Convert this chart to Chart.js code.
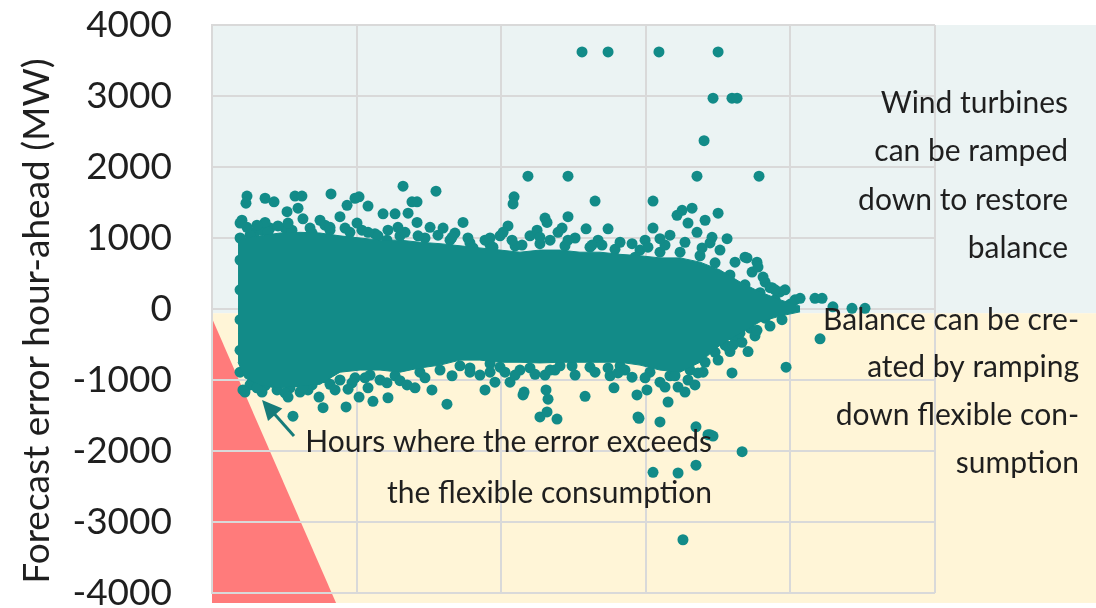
<!DOCTYPE html>
<html>
<head>
<meta charset="utf-8">
<script src="https://cdn.jsdelivr.net/npm/chart.js@4.4.1/dist/chart.umd.min.js"></script>
<style>
html, body { margin: 0; padding: 0; background: #ffffff; }
#wrap { width: 1096px; height: 608px; }
</style>
</head>
<body>
<div id="wrap"><canvas id="chart" width="1096" height="608"></canvas></div>
<script>
// y axis ticks
const yTickValues = [-4000, -3000, -2000, -1000, 0, 1000, 2000, 3000, 4000];
const yTickLabels = ["-4000", "-3000", "-2000", "-1000", "0", "1000", "2000", "3000", "4000"];
const yTitle = "Forecast error hour-ahead (MW)";

// dense core of the cloud, read as an envelope
const envX = [180, 228, 332, 470, 609, 747, 885, 1024, 1162, 1300, 1438, 1577, 1715, 1853, 1992, 2130, 2268, 2407, 2545, 2683, 2822, 2960, 3098, 3237, 3375, 3513, 3652, 3790, 3928, 4067];
const envUpper = [950, 1000, 1030, 1070, 1080, 1070, 1030, 1000, 970, 970, 940, 920, 890, 860, 830, 800, 830, 830, 800, 800, 770, 750, 720, 720, 660, 550, 380, 240, 130, 40];
const envLower = [-750, -970, -1070, -1110, -1080, -1060, -890, -860, -860, -890, -830, -790, -720, -720, -750, -750, -760, -750, -750, -750, -750, -790, -860, -890, -750, -510, -340, -180, -100, -40];

// single hours outside the core
const upperDots = [
[2559,3620],[2739,3620],[3091,3620],[3500,3620],
[3465,2970],[3596,2970],[3631,2970],
[3403,2370],
[2185,1870],[2462,1870],[3354,1870],[3783,1870],
[1321,1730],[1549,1660],[823,1620],
[242,1590],[574,1590],[622,1590],[1017,1580],[2089,1580],
[367,1560],[989,1560],[3050,1520],[2649,1520],
[1418,1510],[1383,1510],[235,1490],[2082,1480],[429,1510],
[934,1460],[1079,1450],[595,1420],[3320,1420],[3251,1390],
[519,1370],[1356,1350],[3500,1350],[1183,1340],[1266,1340],
[3216,1320],[885,1300],[2462,1300],[2303,1280],[629,1270],
[747,1250],[207,1250],[3410,1250],
[1736,1220],[367,1220],[2317,1220],[1418,1220],
[194,1210],[526,1210],[1003,1210],[3292,1210],
[311,1180],[2047,1170],
[242,1150],[816,1150],[1286,1150],[1508,1150],
[1598,1140],[3050,1140],[2421,1140],
[2739,1130],[2587,1130],[1217,1110],[2248,1110],
[387,1080],[1079,1080],[2013,1080],[2393,1080],[3354,1080],
[3167,1040],[2268,1010],[3458,1010],[1660,1010],[1923,1000],
[3098,990],[3562,990],[1210,970],[643,970],[2462,970],
[3444,930],[2905,920],[2144,900],[2628,900],[2697,900],
[1943,870],[3015,870],[1252,860],[1805,860],[1936,760],[2926,730],
[3686,730],[3700,720],[3769,660],[3776,590],[3811,450],
[3859,300],[3873,300],[3894,270],[3963,270],
[4067,150],[4170,150],[4219,150],[4294,30],[4426,10],[4516,10]
];

const lowerDots = [
[214,-1140],[228,-1170],[311,-1110],[526,-1240],[560,-1510],
[740,-1240],[629,-1100],[768,-1390],[927,-1380],
[1017,-1240],[1079,-1110],[1113,-1300],[941,-1130],[1217,-1250],[1210,-1040],
[1349,-1070],[1404,-1110],[1521,-1140],[1625,-1340],
[1853,-930],[1888,-1140],[1923,-890],[1957,-1030],
[2061,-1030],[2096,-930],[2158,-1170],[2151,-1210],
[2303,-930],[2338,-860],[2310,-1140],[2324,-1270],
[2268,-1520],[2317,-1450],[2386,-1550],
[2580,-1230],[2511,-930],[2739,-830],[2808,-900],[2780,-1110],
[2905,-960],[2939,-1210],[2946,-1520],[2953,-1540],
[3008,-1140],[3098,-1590],[3133,-1100],[3223,-1100],[3154,-1310],
[3271,-1170],[3340,-1070],[3361,-900],
[3347,-1660],[3430,-1770],[3444,-1770],[3465,-1790],
[3666,-2010],[3347,-2200],[3050,-2300],[3223,-2310],[3257,-3250],
[3569,-535],[3603,-510],[3596,-900],[3707,-600],
[3769,-300],[3651,-340],[3970,-820],[4205,-420]
];

// hours packed along the rim of the core
const edgeDots = [
[194,1000],[297,1080],[401,1140],[505,1140],[678,1140],[816,1110],[954,1080],
[1127,1060],[1300,1030],[1473,1000],[1646,970],[1784,930],[1923,900],[2096,890],
[2268,920],[2441,890],[2614,870],[2787,840],[2960,830],[3098,800],[3237,800],
[3375,750],[3479,650],[3582,480],[3686,340],[3790,230],[3894,130],[4000,70],
[263,1040],[346,1110],[456,1170],[553,1110],[692,1070],[781,1180],[920,1140],
[1037,1110],[1148,1030],[1335,1080],[1425,1030],[1563,1040],[1680,1070],[1770,1000],
[1888,970],[1992,1030],[2075,970],[2199,1030],[2338,970],[2511,1000],[2670,970],
[2822,940],[2995,970],[3133,900],[3271,940],[3389,860],[3513,830],[3617,660],
[3735,520],[3825,380],[3928,240],[4032,130],
[194,690],[194,270],[194,-150],[194,-580],
[277,-1030],[367,-1080],[450,-1140],[539,-1110],[609,-1170],[692,-1070],
[816,-1060],[885,-1000],[989,-970],[1093,-930],[1266,-940],[1438,-890],
[1577,-860],[1715,-800],[1784,-830],[1992,-820],[2199,-830],[2407,-800],
[2614,-820],[2822,-800],[3029,-890],[3167,-940],[3306,-860],[3410,-750],
[3479,-610],[3548,-510],[3617,-410],[3721,-270],[3825,-130],
[194,-890],[263,-1070],[346,-1170],[415,-1030],[505,-1180],[595,-1030],
[664,-1140],[781,-970],[851,-1140],[968,-1040],[1058,-970],[1162,-1000],
[1300,-1010],[1473,-970],[1660,-940],[1784,-890],[1923,-770],[2026,-890],
[2130,-860],[2234,-920],[2372,-860],[2490,-800],[2649,-890],[2753,-940],
[2856,-860],[2995,-970],[3098,-1030],[3202,-940],[3292,-1000],[3396,-890],
[3500,-720],[3582,-600],[3665,-470],[3755,-380],[3859,-240],[3942,-150]
];

// note texts
const windNote = ["Wind turbines", "can be ramped", "down to restore", "balance"];
const balanceNote = ["Balance can be cre-", "ated by ramping", "down flexible con-", "sumption"];
const hoursNote = ["Hours where the error exceeds", "the flexible consumption"];

const teal = "#128b88";

const zonesPlugin = {
    id: "zones",
    beforeDraw(chart) {
        const ctx = chart.ctx;
        const xs = chart.scales.x;
        const ys = chart.scales.y;
        const left = xs.getPixelForValue(0);
        const top = ys.getPixelForValue(4000);
        const split = ys.getPixelForValue(-60);
        const bottom = ys.getPixelForValue(-4140);
        ctx.save();
        ctx.fillStyle = "#ebf3f3";
        ctx.fillRect(left, top, chart.width - left, split - top);
        ctx.fillStyle = "#fff5d7";
        ctx.fillRect(left, split, chart.width - left, bottom - split);
        ctx.fillStyle = "#ff7b7b";
        ctx.beginPath();
        ctx.moveTo(left, ys.getPixelForValue(-130));
        ctx.lineTo(left, bottom);
        ctx.lineTo(xs.getPixelForValue(858), bottom);
        ctx.closePath();
        ctx.fill();

        // axis title, centred a little below the plot middle as in the source
        ctx.fillStyle = "#1f1f1f";
        ctx.font = "37px Lato";
        ctx.textAlign = "center";
        ctx.textBaseline = "middle";
        ctx.translate(37, (chart.chartArea.top + chart.chartArea.bottom) / 2 + 12);
        ctx.rotate(-Math.PI / 2);
        ctx.fillText(yTitle, 0, 0);
        ctx.restore();
    }
};

const notesPlugin = {
    id: "notes",
    afterDatasetsDraw(chart) {
        const ctx = chart.ctx;
        const xs = chart.scales.x;
        const ys = chart.scales.y;

        // arrow to the hours below the flexible consumption
        const tx = xs.getPixelForValue(567), ty = ys.getPixelForValue(-1788);
        const hx = xs.getPixelForValue(346), hy = ys.getPixelForValue(-1281);
        const ang = Math.atan2(hy - ty, hx - tx);
        ctx.save();
        ctx.strokeStyle = "#177c7a";
        ctx.fillStyle = "#177c7a";
        ctx.lineWidth = 3;
        ctx.beginPath();
        ctx.moveTo(tx, ty);
        ctx.lineTo(hx - 10 * Math.cos(ang), hy - 10 * Math.sin(ang));
        ctx.stroke();
        ctx.beginPath();
        ctx.moveTo(hx, hy);
        ctx.lineTo(hx - 22 * Math.cos(ang - 0.45), hy - 22 * Math.sin(ang - 0.45));
        ctx.lineTo(hx - 22 * Math.cos(ang + 0.45), hy - 22 * Math.sin(ang + 0.45));
        ctx.closePath();
        ctx.fill();

        ctx.fillStyle = "#1f1f1f";
        ctx.font = "30px Lato";
        ctx.textAlign = "right";
        ctx.textBaseline = "middle";
        let x = xs.getPixelForValue(5920), y = ys.getPixelForValue(2900);
        windNote.forEach(function(t, i) { ctx.fillText(t, x, y + i * 48.5); });
        x = xs.getPixelForValue(5996); y = ys.getPixelForValue(-155);
        balanceNote.forEach(function(t, i) { ctx.fillText(t, x, y + i * 47.7); });
        x = xs.getPixelForValue(3458); y = ys.getPixelForValue(-1873);
        hoursNote.forEach(function(t, i) { ctx.fillText(t, x, y + i * 51); });
        ctx.restore();
    }
};

function toPoints(list) {
    return list.map(function(p) { return { x: p[0], y: p[1] }; });
}

new Chart(document.getElementById("chart").getContext("2d"), {
    type: "scatter",
    data: {
        datasets: [
            {
                type: "line",
                data: envX.map(function(v, i) { return { x: v, y: envUpper[i] }; }),
                borderColor: teal,
                borderWidth: 1,
                backgroundColor: teal,
                pointRadius: 0,
                tension: 0,
                fill: "+1"
            },
            {
                type: "line",
                data: envX.map(function(v, i) { return { x: v, y: envLower[i] }; }),
                borderColor: teal,
                borderWidth: 1,
                pointRadius: 0,
                tension: 0,
                fill: false
            },
            {
                data: toPoints(edgeDots.concat(upperDots, lowerDots)),
                backgroundColor: teal,
                borderWidth: 0,
                pointRadius: 5.5
            }
        ]
    },
    plugins: [zonesPlugin, notesPlugin],
    options: {
        responsive: false,
        animation: false,
        events: [],
        layout: { padding: { top: 25, bottom: 15, right: 161, left: 0 } },
        plugins: { legend: { display: false }, tooltip: { enabled: false } },
        scales: {
            x: {
                type: "linear",
                min: 0,
                max: 5000,
                ticks: { display: false, stepSize: 1000 },
                grid: { color: "#d9d9d9", lineWidth: 2, drawTicks: false },
                border: { display: false },
                afterFit: function(s) { s.height = 0; }
            },
            y: {
                min: -4000,
                max: 4000,
                afterBuildTicks: function(s) { s.ticks = yTickValues.map(function(v) { return { value: v }; }); },
                ticks: {
                    padding: 0,
                    color: "#1f1f1f",
                    font: { family: "Lato", size: 37, lineHeight: 0.8 },
                    callback: function(v) { return yTickLabels[yTickValues.indexOf(v)]; }
                },
                grid: { color: "#d9d9d9", lineWidth: 2, drawTicks: true, tickLength: 40, tickColor: "rgba(0,0,0,0)" },
                border: { display: true, color: "#d9d9d9", width: 2 },
                title: { display: false },
                afterFit: function(s) { s.width = 212; }
            }
        }
    }
});
</script>
</body>
</html>
